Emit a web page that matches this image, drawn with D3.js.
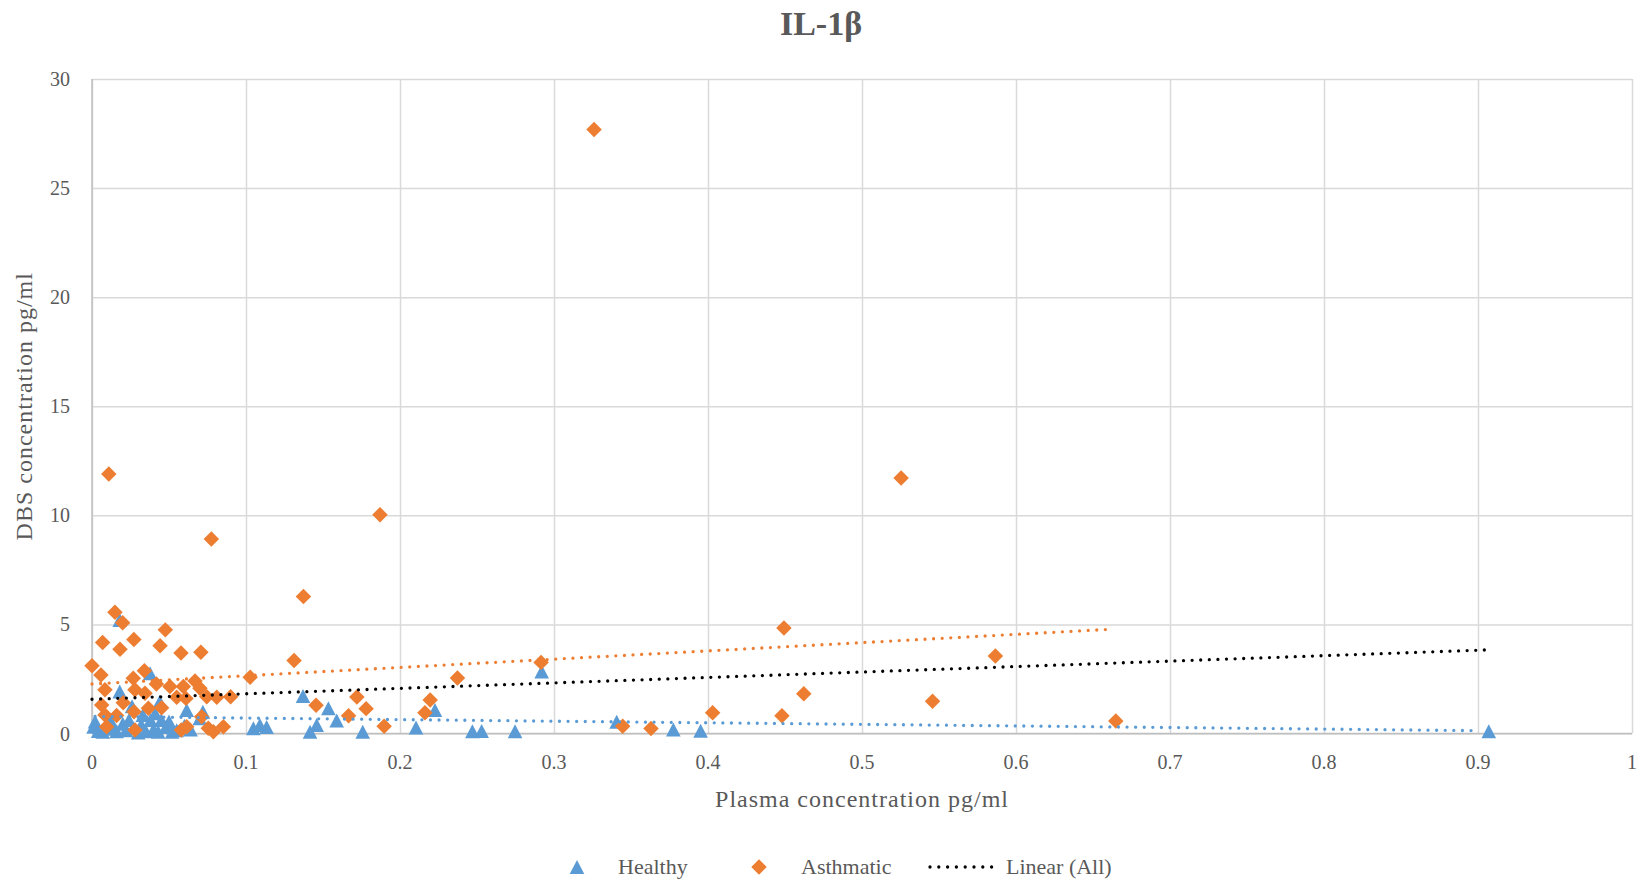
<!DOCTYPE html>
<html>
<head>
<meta charset="utf-8">
<script src="https://cdn.jsdelivr.net/npm/d3@7"></script>
<style>
  body { margin: 0; background: #fff; }
  text { font-family: "Liberation Serif", "DejaVu Serif", serif; fill: #595959; }
</style>
</head>
<body>
<div id="chart"></div>
<script>
// values
var healthyX = [0.001, 0.002, 0.004, 0.007, 0.010, 0.012, 0.014, 0.016, 0.018, 0.018, 0.020, 0.022, 0.024, 0.027, 0.030,
  0.032, 0.035, 0.0377, 0.038, 0.040, 0.041, 0.043, 0.045, 0.048, 0.050, 0.052, 0.055, 0.060, 0.0615, 0.064, 0.072, 0.070,
  0.1048, 0.109, 0.1134, 0.137, 0.1416, 0.1459, 0.1535, 0.1589, 0.1758, 0.2104, 0.2227, 0.247, 0.253, 0.2747, 0.292,
  0.3407, 0.3775, 0.3952, 0.907, 0.026, 0.033, 0.044];
var healthyY = [0.31, 0.55, 0.12, 0.08, 0.35, 0.60, 0.22, 0.10, 1.92, 5.2, 0.45, 0.15, 0.62, 0.24, 0.05,
  0.40, 0.10, 2.76, 0.62, 0.20, 0.93, 0.08, 0.62, 0.30, 0.55, 0.08, 0.15, 0.35, 1.08, 0.18, 1.0, 0.70,
  0.24, 0.39, 0.30, 1.72, 0.08, 0.39, 1.16, 0.6, 0.08, 0.27, 1.08, 0.1, 0.12, 0.1, 2.84,
  0.54, 0.18, 0.13, 0.1, 1.25, 0.85, 1.45];

var asthmaticX = [0.000, 0.0058, 0.0069, 0.0084, 0.0063, 0.0084, 0.0095, 0.0109, 0.0149, 0.016, 0.0182, 0.0199, 0.0203,
  0.0268, 0.0272, 0.0273, 0.0279, 0.0279, 0.034, 0.0344, 0.0366, 0.0418, 0.0442, 0.0452, 0.0476, 0.0506, 0.055, 0.0578,
  0.058, 0.0593, 0.061, 0.0615, 0.0669, 0.0701, 0.0707, 0.0712, 0.0745, 0.0755, 0.0775, 0.0788, 0.081, 0.0853, 0.090,
  0.1027, 0.1312, 0.1373, 0.1455, 0.1666, 0.172, 0.178, 0.187, 0.1897, 0.2162, 0.2196, 0.2373, 0.2916, 0.326, 0.3446,
  0.363, 0.403, 0.448, 0.4493, 0.4622, 0.5254, 0.5458, 0.5866, 0.6648];
var asthmaticY = [3.10, 2.68, 4.17, 2.0, 1.31, 0.85, 0.31, 11.90, 5.56, 0.82, 3.86, 5.08, 1.41,
  2.53, 4.31, 1.0, 2.0, 0.16, 2.88, 1.84, 1.16, 2.27, 4.02, 1.18, 4.75, 2.15, 1.66, 3.69,
  0.16, 2.15, 1.61, 0.31, 2.41, 2.07, 3.72, 0.77, 1.69, 0.24, 8.92, 0.08, 1.66, 0.31, 1.69,
  2.58, 3.35, 6.28, 1.29, 0.81, 1.67, 1.14, 10.03, 0.33, 0.95, 1.53, 2.54, 3.26, 27.69, 0.33,
  0.23, 0.95, 0.81, 4.84, 1.82, 11.71, 1.48, 3.55, 0.57];

// trendline end points
var trendHealthyX = [0.002, 0.9], trendHealthyY = [0.78, 0.13];
var trendAsthmaticX = [0, 0.662], trendAsthmaticY = [2.27, 4.78];
var trendAllX = [0, 0.905], trendAllY = [1.57, 3.83];

var xTicks = [0, 0.1, 0.2, 0.3, 0.4, 0.5, 0.6, 0.7, 0.8, 0.9, 1];
var yTicks = [0, 5, 10, 15, 20, 25, 30];

var blue = "#5b9bd5", orange = "#ed7d31";

var W = 1641, H = 884;
var margin = {top: 79, right: 9, bottom: 150.5, left: 92},
    width = W - margin.left - margin.right,
    height = H - margin.top - margin.bottom;

var svg = d3.select("#chart").append("svg")
    .attr("width", W)
    .attr("height", H);

var g = svg.append("g")
    .attr("transform", `translate(${margin.left},${margin.top})`);

var x = d3.scaleLinear().domain([0, 1]).range([0, width]);
var y = d3.scaleLinear().domain([0, 30]).range([height, 0]);

// gridlines
g.append("g")
  .call(d3.axisBottom(x).tickValues(xTicks).tickSize(-height).tickFormat(""))
  .attr("transform", `translate(0,${height})`)
  .call(function(s) { s.select(".domain").remove(); })
  .selectAll("line").attr("stroke", "#d9d9d9").attr("stroke-width", 1.5);
g.append("g")
  .call(d3.axisLeft(y).tickValues(yTicks).tickSize(-width).tickFormat(""))
  .call(function(s) { s.select(".domain").remove(); })
  .selectAll("line").attr("stroke", "#d9d9d9").attr("stroke-width", 1.5);

// axis lines
g.append("line").attr("x1", 0).attr("x2", 0).attr("y1", 0).attr("y2", height)
  .attr("stroke", "#bfbfbf").attr("stroke-width", 1.5);
g.append("line").attr("x1", 0).attr("x2", width).attr("y1", height).attr("y2", height)
  .attr("stroke", "#bfbfbf").attr("stroke-width", 1.5);

// tick labels
g.selectAll(".xl").data(xTicks).enter().append("text")
  .attr("x", function(d) { return x(d); })
  .attr("y", height + 35)
  .attr("text-anchor", "middle")
  .style("font-size", "20px")
  .text(function(d) { return d3.format("")(d); });
g.selectAll(".yl").data(yTicks).enter().append("text")
  .attr("x", -22)
  .attr("y", function(d) { return y(d) + 7; })
  .attr("text-anchor", "end")
  .style("font-size", "20px")
  .text(function(d) { return d; });

// markers
var tri = "M0,-7L7.3,7L-7.3,7Z";
g.append("g").selectAll("path").data(healthyX).enter().append("path")
  .attr("d", tri)
  .attr("fill", blue)
  .attr("transform", function(d, i) { return `translate(${x(d)},${y(healthyY[i])})`; });

var dia = d3.symbol().type(d3.symbolSquare).size(120);
g.append("g").selectAll("path").data(asthmaticX).enter().append("path")
  .attr("d", dia)
  .attr("fill", orange)
  .attr("transform", function(d, i) { return `translate(${x(d)},${y(asthmaticY[i])}) rotate(45)`; });

// trendlines
function trend(xs, ys, color) {
  g.append("path")
    .datum(xs.map(function(d, i) { return [d, ys[i]]; }))
    .attr("fill", "none")
    .attr("stroke", color)
    .attr("stroke-width", 3.3)
    .attr("stroke-linecap", "round")
    .attr("stroke-dasharray", "0 8.6")
    .attr("d", d3.line().x(function(d) { return x(d[0]); }).y(function(d) { return y(d[1]); }));
}
trend(trendHealthyX, trendHealthyY, blue);
trend(trendAsthmaticX, trendAsthmaticY, orange);
trend(trendAllX, trendAllY, "#000");

// title
svg.append("text")
  .attr("x", 821)
  .attr("y", 35)
  .attr("text-anchor", "middle")
  .style("font-size", "34px")
  .style("font-weight", "bold")
  .text("IL-1β");

// axis titles
svg.append("text")
  .attr("x", margin.left + width / 2)
  .attr("y", 807)
  .attr("text-anchor", "middle")
  .style("font-size", "24px")
  .style("letter-spacing", "1px")
  .text("Plasma concentration pg/ml");
svg.append("text")
  .attr("transform", `translate(32,${margin.top + height / 2}) rotate(-90)`)
  .attr("text-anchor", "middle")
  .style("font-size", "24px")
  .style("letter-spacing", "1px")
  .text("DBS concentration pg/ml");

// legend
var ly = 867;
var legend = svg.append("g");
legend.append("path").attr("d", tri).attr("fill", blue)
  .attr("transform", `translate(577,${ly})`);
legend.append("text").attr("x", 618).attr("y", ly + 7).style("font-size", "22px").text("Healthy");
legend.append("path").attr("d", dia).attr("fill", orange)
  .attr("transform", `translate(759,${ly}) rotate(45)`);
legend.append("text").attr("x", 801).attr("y", ly + 7).style("font-size", "22px").text("Asthmatic");
legend.append("line").attr("x1", 930).attr("x2", 992).attr("y1", ly).attr("y2", ly)
  .attr("stroke", "#000").attr("stroke-width", 3.3)
  .attr("stroke-linecap", "round").attr("stroke-dasharray", "0 8.8");
legend.append("text").attr("x", 1006).attr("y", ly + 7).style("font-size", "22px").text("Linear (All)");
</script>
</body>
</html>
